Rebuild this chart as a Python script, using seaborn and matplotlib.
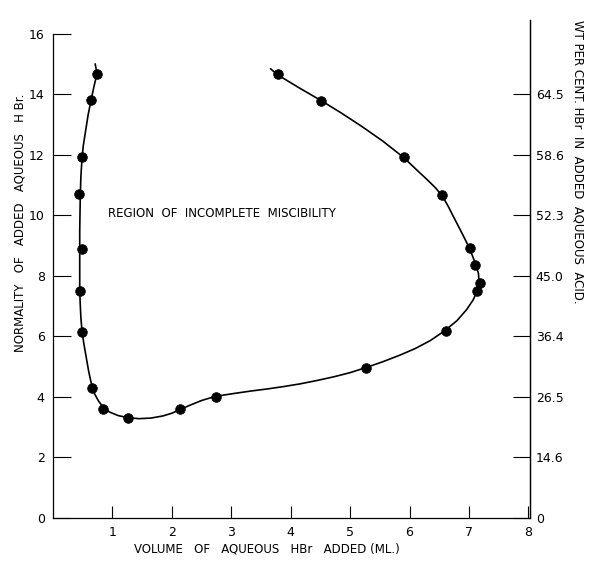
import numpy as np
import pandas as pd
import matplotlib
matplotlib.use("Agg")
import matplotlib.pyplot as plt
import seaborn as sns

# measured points (volume ml, normality)
vol = [0.74, 0.64, 0.49, 0.44, 0.48, 0.45, 0.49, 0.65, 0.85, 1.27, 2.14, 2.74,
       5.27, 6.61, 7.14, 7.18, 7.11, 7.01, 6.55, 5.90, 4.51, 3.78]
norm = [14.68, 13.80, 11.91, 10.69, 8.88, 7.50, 6.14, 4.29, 3.60, 3.31, 3.61, 4.00,
        4.96, 6.17, 7.50, 7.75, 8.37, 8.91, 10.67, 11.91, 13.77, 14.65]

# hand-drawn boundary curve
curve_x = [0.71, 0.74, 0.69, 0.64, 0.59, 0.55, 0.51, 0.49, 0.47, 0.46, 0.455, 0.45,
           0.45, 0.45, 0.45, 0.46, 0.47, 0.49, 0.52, 0.56, 0.60, 0.65, 0.70, 0.77,
           0.85, 0.95, 1.10, 1.27, 1.45, 1.65, 1.85, 2.00, 2.14, 2.30, 2.50, 2.74,
           3.04, 3.32, 3.60, 3.88, 4.16, 4.44, 4.72, 5.00, 5.27, 5.55, 5.84, 6.10,
           6.35, 6.59, 6.80, 6.96, 7.07, 7.14, 7.17, 7.16, 7.11, 7.01, 6.88, 6.74,
           6.65, 6.55, 6.44, 6.30, 6.12, 5.90, 5.55, 5.20, 4.85, 4.51, 4.15, 3.78, 3.66]
curve_y = [15.00, 14.68, 14.25, 13.80, 13.30, 12.80, 12.30, 11.91, 11.30, 10.70, 10.10, 9.50,
           8.90, 8.20, 7.50, 7.00, 6.60, 6.14, 5.75, 5.30, 4.85, 4.40, 4.10, 3.85,
           3.65, 3.50, 3.38, 3.31, 3.28, 3.30, 3.37, 3.46, 3.58, 3.72, 3.88, 4.02,
           4.11, 4.19, 4.26, 4.34, 4.43, 4.54, 4.66, 4.80, 4.97, 5.16, 5.38, 5.60,
           5.86, 6.18, 6.52, 6.88, 7.20, 7.50, 7.80, 8.08, 8.40, 8.91, 9.42, 9.95,
           10.30, 10.64, 10.90, 11.17, 11.50, 11.91, 12.45, 12.93, 13.38, 13.79, 14.20, 14.64, 14.84]

left_ticks = [0, 2, 4, 6, 8, 10, 12, 14, 16]
right_ticks = [0, 2, 4, 6, 8, 10, 12, 14]
wt_labels = ["0", "14.6", "26.5", "36.4", "45.0", "52.3", "58.6", "64.5"]
x_ticks = [1, 2, 3, 4, 5, 6, 7, 8]

sns.set_style("ticks")
plt.rcParams["font.family"] = ["DejaVu Sans"]
for k in ["text.color", "axes.labelcolor", "xtick.color", "ytick.color", "axes.edgecolor"]:
    plt.rcParams[k] = "black"

fig = plt.figure(figsize=(5.92, 5.63), dpi=100)
ax = fig.add_axes([0.0895, 0.080, 0.806, 0.8845])

pts = pd.DataFrame({"vol": vol, "norm": norm})
line = pd.DataFrame({"x": curve_x, "y": curve_y})
sns.lineplot(data=line, x="x", y="y", sort=False, estimator=None, color="black",
             linewidth=1.2, ax=ax)
sns.scatterplot(data=pts, x="vol", y="norm", color="black", s=48, edgecolor="black",
                zorder=3, ax=ax)

ax.set_xlim(0, 8.03)
ax.set_ylim(0, 16.45)
ax.set_xticks(x_ticks)
ax.set_yticks(left_ticks)
ax.tick_params(axis="x", direction="in", length=9, width=0.8, pad=6, labelsize=9)
ax.tick_params(axis="y", direction="in", length=13, width=0.8, pad=6, labelsize=9)
ax.spines["top"].set_visible(False)
ax.spines["left"].set_bounds(0, 16)
for s in ["left", "bottom", "right"]:
    ax.spines[s].set_linewidth(0.9)
ax.set_xlabel("")
ax.set_ylabel("")

ax2 = ax.twinx()
ax2.set_ylim(ax.get_ylim())
ax2.set_yticks(right_ticks, labels=wt_labels)
ax2.tick_params(axis="y", direction="in", length=12, width=0.8, pad=4, labelsize=9)
ax2.spines["top"].set_visible(False)
ax2.spines["left"].set_visible(False)
ax2.spines["bottom"].set_visible(False)
ax2.spines["right"].set_linewidth(0.9)

ax.text(0.93, 10.07, "REGION  OF  INCOMPLETE  MISCIBILITY", fontsize=8.5,
        va="center", ha="left")

fig.text(0.034, 0.605, "NORMALITY   OF   ADDED   AQUEOUS   H Br.", rotation=90,
         ha="center", va="center", fontsize=8.5)
fig.text(0.45, 0.025, "VOLUME   OF   AQUEOUS   HBr   ADDED (ML.)",
         ha="center", va="center", fontsize=8.5)
fig.text(0.976, 0.965, "WT PER CENT. HBr  IN  ADDED  AQUEOUS  ACID.", rotation=-90,
         ha="center", va="top", fontsize=8.5)

fig.savefig("out.png", dpi=100)
